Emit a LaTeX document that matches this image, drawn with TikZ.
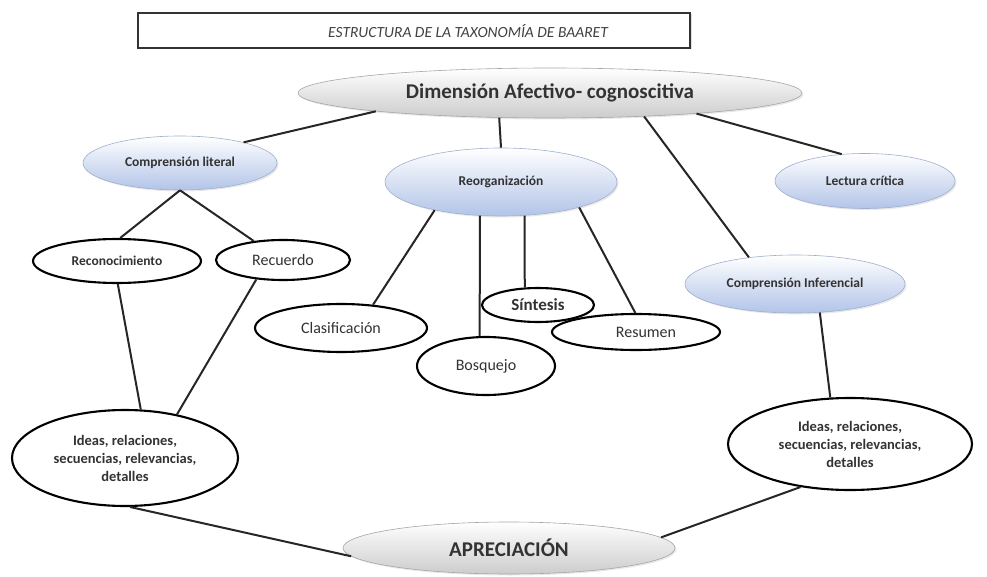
\documentclass[tikz,border=0pt]{standalone}
\usepackage{fontspec}
\setmainfont{Carlito}
\usetikzlibrary{shapes.geometric,shadows}
\definecolor{ellblue}{RGB}{178,196,232}
\definecolor{ellblueborder}{RGB}{160,175,205}
\tikzset{
  conn/.style={line width=2pt, black!85},
  base/.style={ellipse, inner sep=0pt, align=center, text=black!80},
  whiteell/.style={base, draw=black, line width=2.1pt, fill=white},
  blueell/.style={base, draw=ellblueborder, line width=0.6pt, top color=white, bottom color=ellblue,
     drop shadow={opacity=0.18, shadow xshift=1.5pt, shadow yshift=-1.5pt}},
  grayell/.style={base, draw=black!35, line width=0.6pt, top color=white, bottom color=black!20,
     drop shadow={opacity=0.18, shadow xshift=1.5pt, shadow yshift=-1.5pt}},
  fsmall/.style={font=\fontsize{13.5}{17}\selectfont\bfseries},
  fmid/.style={font=\fontsize{16}{19}\selectfont},
  fideas/.style={font=\fontsize{14.5}{18}\selectfont\bfseries},
}
\begin{document}
\begin{tikzpicture}[x=1pt,y=-1pt]
\useasboundingbox (0,0) rectangle (987,577);

% title
\node[draw=black!80, line width=2.2pt, minimum width=552pt, minimum height=35pt, inner sep=0pt,
      drop shadow={opacity=0.25, shadow xshift=1.5pt, shadow yshift=-1.5pt}, fill=white] (title) at (414,30.5) {};
\node[font=\fontsize{15.5}{18}\selectfont\itshape, text=black!75, inner sep=0pt] (titletext) at (468,31) {ESTRUCTURA DE LA TAXONOMÍA DE BAARET};

% top
\node[grayell, minimum width=504pt, minimum height=50pt, font=\fontsize{21}{24}\selectfont\bfseries] (dim) at (550,93) {Dimensión Afectivo- cognoscitiva};

% second level
\node[blueell, fsmall, minimum width=194pt, minimum height=54pt] (cl) at (180,163) {Comprensión literal};
\node[blueell, fsmall, minimum width=232pt, minimum height=68pt] (reorg) at (501,182) {Reorganización};
\node[blueell, fsmall, minimum width=180pt, minimum height=55pt] (lc) at (865,181) {Lectura crítica};
\node[blueell, fsmall, minimum width=220pt, minimum height=58pt] (ci) at (795,284) {Comprensión Inferencial};

% literal children
\node[whiteell, fsmall, minimum width=168pt, minimum height=44pt] (reco) at (117,261) {Reconocimiento};
\node[whiteell, fmid, minimum width=134pt, minimum height=40pt] (rec) at (283,260) {Recuerdo};

% reorganization children
\node[whiteell, fmid, minimum width=172pt, minimum height=48pt] (clas) at (341,328) {Clasificación};
\node[whiteell, fmid, minimum width=138pt, minimum height=58pt] (bos) at (486,366) {Bosquejo};
\node[whiteell, fmid, minimum width=168pt, minimum height=36pt] (res) at (636,332) {\hspace*{20pt}Resumen};
\node[whiteell, font=\fontsize{17}{20}\selectfont\bfseries, minimum width=112pt, minimum height=34pt] (sin) at (538,305) {Síntesis};

% ideas
\node[whiteell, fideas, minimum width=226pt, minimum height=96pt] (idl) at (125,458) {Ideas, relaciones,\\ secuencias, relevancias,\\ detalles};
\node[whiteell, fideas, minimum width=244pt, minimum height=92pt] (idr) at (850,444) {Ideas, relaciones,\\ secuencias, relevancias,\\ detalles};

% bottom
\node[grayell, minimum width=332pt, minimum height=52pt, font=\fontsize{21}{24}\selectfont\bfseries] (apr) at (509,548) {APRECIACIÓN};

% connectors
\draw[conn] (dim.186.6) -- (cl.18);
\draw[conn] (dim.206.6) -- (reorg.north);
\draw[conn] (dim.346.5) -- (ci.150.6);
\draw[conn] (dim.352.5) -- (lc.131.5);

\draw[conn] (cl.south) -- (reco.82);
\draw[conn] (cl.south) -- (rec.147.6);
\draw[conn] (reco.272) -- (idl.72.6);
\draw[conn] (rec.216) -- (idl.40);

\draw[conn] (reorg.203) -- (clas.36.6);
\draw[conn] (reorg.238.3) -- (bos.102);
\draw[conn] (reorg.305.2) -- (sin.127.4);
\draw[conn] (reorg.342.2) -- (res.92);

\draw[conn] (ci.311) -- (idr.113.5);
\draw[conn] (idl.276) -- (apr.183);
\draw[conn] (idr.221) -- (apr.4);
\end{tikzpicture}
\end{document}
